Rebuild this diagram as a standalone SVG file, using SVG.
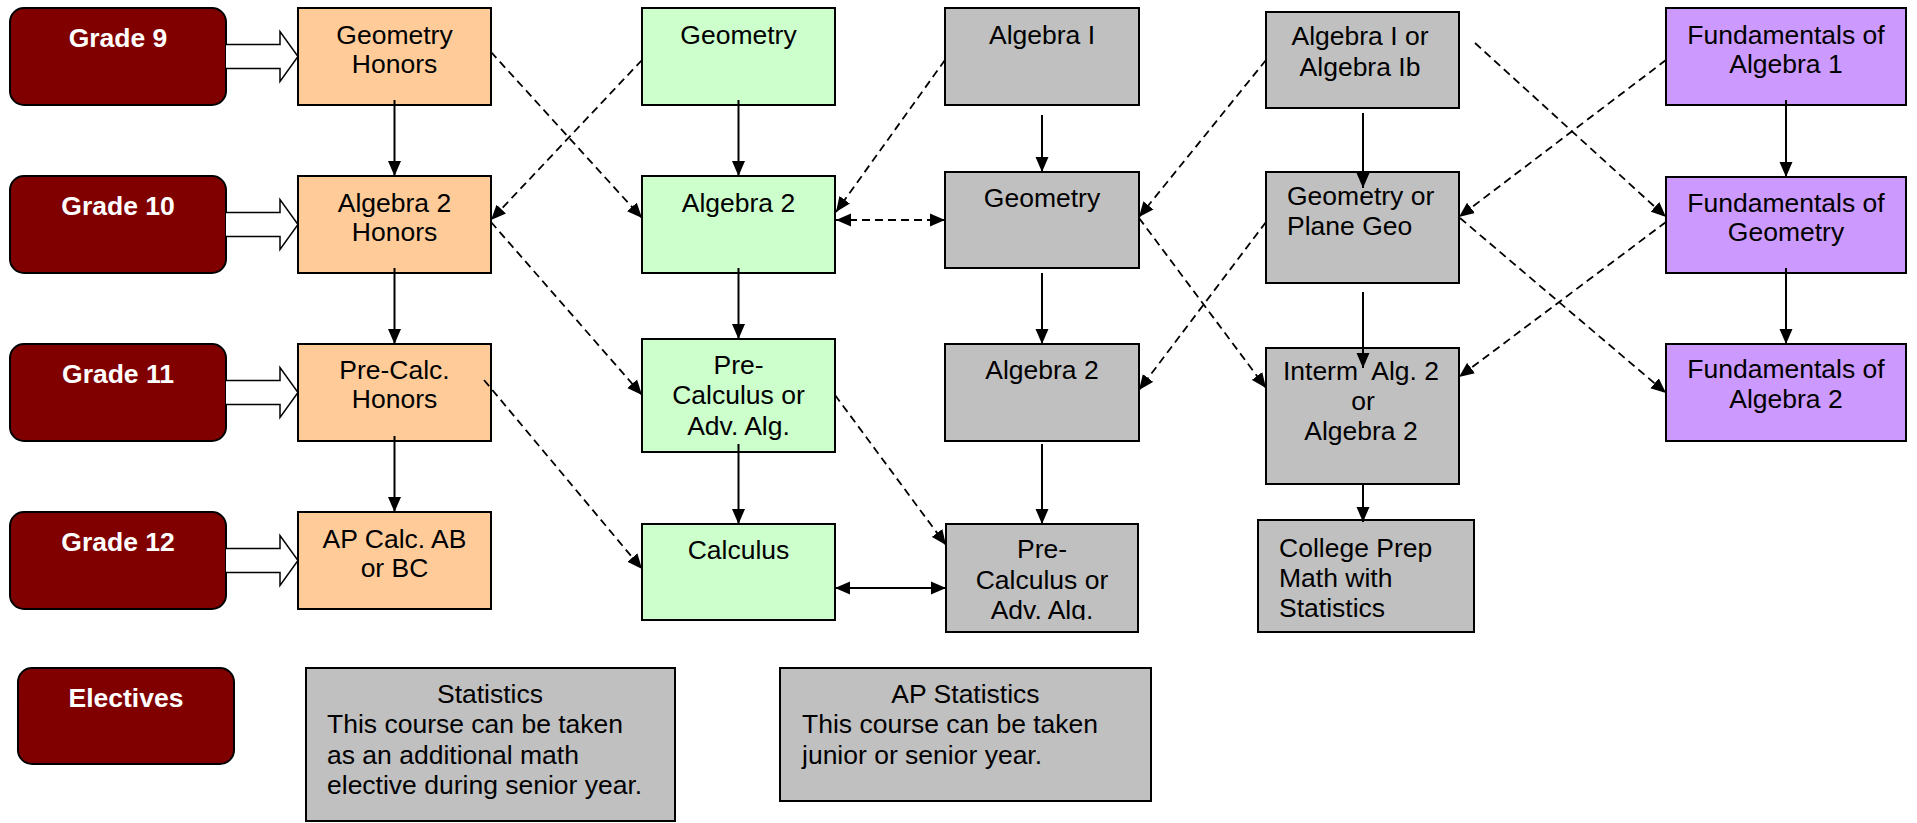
<svg xmlns="http://www.w3.org/2000/svg" width="1917" height="823" viewBox="0 0 1917 823">
<defs>
<style>
.grade{fill:#800000;stroke:#000;stroke-width:2}
.gt{font-family:"Liberation Sans",Arial,sans-serif;font-weight:bold;font-size:26.5px;fill:#fff;text-anchor:middle}
.box{stroke:#000;stroke-width:2}
.or{fill:#FFCC99}.gr{fill:#CCFFCC}.gy{fill:#C0C0C0}.pu{fill:#CC99FF}
.t{font-family:"Liberation Sans",Arial,sans-serif;font-size:26.5px;fill:#000;text-anchor:middle}
.tl{font-family:"Liberation Sans",Arial,sans-serif;font-size:26.5px;fill:#000;text-anchor:start}
.blk{fill:#fff;stroke:#000;stroke-width:1.5}
.sol{fill:none;stroke:#000;stroke-width:2;marker-end:url(#ah)}
.das{fill:none;stroke:#000;stroke-width:1.8;stroke-dasharray:8,5;marker-end:url(#ah)}
</style>
<marker id="ah" viewBox="0 0 15 14" markerWidth="15" markerHeight="14" refX="15" refY="7" orient="auto-start-reverse" markerUnits="userSpaceOnUse">
<path d="M0,0.5 L15,7 L0,13.5 z" fill="#000"/>
</marker>
<clipPath id="clipPC"><rect x="946" y="524" width="192" height="96"/></clipPath>
</defs>
<rect width="1917" height="823" fill="#fff"/>

<g id="grade9"><rect class="grade" x="10" y="8" width="216" height="97" rx="14"/><text class="gt" x="118" y="47">Grade 9</text></g>
<g id="grade10"><rect class="grade" x="10" y="176" width="216" height="97" rx="14"/><text class="gt" x="118" y="215">Grade 10</text></g>
<g id="grade11"><rect class="grade" x="10" y="344" width="216" height="97" rx="14"/><text class="gt" x="118" y="383">Grade 11</text></g>
<g id="grade12"><rect class="grade" x="10" y="512" width="216" height="97" rx="14"/><text class="gt" x="118" y="551">Grade 12</text></g>
<g id="electives"><rect class="grade" x="18" y="668" width="216" height="96" rx="14"/><text class="gt" x="126" y="707">Electives</text></g>

<g id="block-arrows">
<path class="blk" d="M226,44.5 H280 V31.5 L298,56.5 L280,81.5 V68.5 H226"/>
<path class="blk" d="M226,212.5 H280 V199.5 L298,224.5 L280,249.5 V236.5 H226"/>
<path class="blk" d="M226,380.5 H280 V367.5 L298,392.5 L280,417.5 V404.5 H226"/>
<path class="blk" d="M226,548.5 H280 V535.5 L298,560.5 L280,585.5 V572.5 H226"/>
</g>

<g id="geo-honors"><rect class="box or" x="298" y="8" width="193" height="97"/><text class="t" x="394.5" y="44">Geometry</text><text class="t" x="394.5" y="73">Honors</text></g>
<g id="alg2-honors"><rect class="box or" x="298" y="176" width="193" height="97"/><text class="t" x="394.5" y="212">Algebra 2</text><text class="t" x="394.5" y="241">Honors</text></g>
<g id="precalc-honors"><rect class="box or" x="298" y="344" width="193" height="97"/><text class="t" x="394.5" y="379">Pre-Calc.</text><text class="t" x="394.5" y="408">Honors</text></g>
<g id="ap-calc"><rect class="box or" x="298" y="512" width="193" height="97"/><text class="t" x="394.5" y="548">AP Calc. AB</text><text class="t" x="394.5" y="577">or BC</text></g>

<g id="geo-green"><rect class="box gr" x="642" y="8" width="193" height="97"/><text class="t" x="738.5" y="44">Geometry</text></g>
<g id="alg2-green"><rect class="box gr" x="642" y="176" width="193" height="97"/><text class="t" x="738.5" y="212">Algebra 2</text></g>
<g id="precalc-green"><rect class="box gr" x="642" y="339" width="193" height="113"/><text class="t" x="738.5" y="374">Pre-</text><text class="t" x="738.5" y="404">Calculus or</text><text class="t" x="738.5" y="435">Adv. Alg.</text></g>
<g id="calc-green"><rect class="box gr" x="642" y="524" width="193" height="96"/><text class="t" x="738.5" y="559">Calculus</text></g>

<g id="alg1-gray"><rect class="box gy" x="945" y="8" width="194" height="97"/><text class="t" x="1042" y="44">Algebra I</text></g>
<g id="geo-gray"><rect class="box gy" x="945" y="172" width="194" height="96"/><text class="t" x="1042" y="207">Geometry</text></g>
<g id="alg2-gray"><rect class="box gy" x="945" y="344" width="194" height="97"/><text class="t" x="1042" y="379">Algebra 2</text></g>
<g id="precalc-gray"><rect class="box gy" x="946" y="524" width="192" height="108"/><g clip-path="url(#clipPC)"><text class="t" x="1042" y="558">Pre-</text><text class="t" x="1042" y="589">Calculus or</text><text class="t" x="1042" y="619">Adv. Alg.</text></g></g>

<g id="alg1-or-ib"><rect class="box gy" x="1266" y="12" width="193" height="96"/><text class="t" x="1360" y="45">Algebra I or</text><text class="t" x="1360" y="76">Algebra Ib</text></g>
<g id="geo-or-plane"><rect class="box gy" x="1266" y="172" width="193" height="111"/><text class="tl" x="1287" y="205">Geometry or</text><text class="tl" x="1287" y="235">Plane Geo</text></g>
<g id="interm-alg2"><rect class="box gy" x="1266" y="348" width="193" height="136"/><text class="t" x="1361" y="380" style="white-space:pre">Interm  Alg. 2</text><text class="t" x="1363" y="410">or</text><text class="t" x="1361" y="440">Algebra 2</text></g>
<g id="college-prep"><rect class="box gy" x="1258" y="520" width="216" height="112"/><text class="tl" x="1279" y="557">College Prep</text><text class="tl" x="1279" y="587">Math with</text><text class="tl" x="1279" y="617">Statistics</text></g>

<g id="fund-alg1"><rect class="box pu" x="1666" y="8" width="240" height="97"/><text class="t" x="1786" y="44">Fundamentals of</text><text class="t" x="1786" y="73">Algebra 1</text></g>
<g id="fund-geo"><rect class="box pu" x="1666" y="177" width="240" height="96"/><text class="t" x="1786" y="212">Fundamentals of</text><text class="t" x="1786" y="241">Geometry</text></g>
<g id="fund-alg2"><rect class="box pu" x="1666" y="344" width="240" height="97"/><text class="t" x="1786" y="378">Fundamentals of</text><text class="t" x="1786" y="408">Algebra 2</text></g>

<g id="statistics"><rect class="box gy" x="306" y="668" width="369" height="153"/><text class="t" x="490" y="703">Statistics</text><text class="tl" x="327" y="733">This course can be taken</text><text class="tl" x="327" y="764">as an additional math</text><text class="tl" x="327" y="794">elective during senior year.</text></g>
<g id="ap-statistics"><rect class="box gy" x="780" y="668" width="371" height="133"/><text class="t" x="965.5" y="703">AP Statistics</text><text class="tl" x="802" y="733">This course can be taken</text><text class="tl" x="802" y="764">junior or senior year.</text></g>

<g id="connectors">
<line class="sol" x1="394.5" y1="100" x2="394.5" y2="176"/>
<line class="sol" x1="394.5" y1="268" x2="394.5" y2="344"/>
<line class="sol" x1="394.5" y1="436" x2="394.5" y2="512"/>
<line class="sol" x1="738.5" y1="100" x2="738.5" y2="176"/>
<line class="sol" x1="738.5" y1="268" x2="738.5" y2="339"/>
<line class="sol" x1="738.5" y1="444" x2="738.5" y2="524"/>
<line class="sol" x1="1042" y1="115" x2="1042" y2="172"/>
<line class="sol" x1="1042" y1="273" x2="1042" y2="344"/>
<line class="sol" x1="1042" y1="444" x2="1042" y2="524"/>
<line class="sol" x1="1363" y1="113" x2="1363" y2="188"/>
<line class="sol" x1="1363" y1="292" x2="1363" y2="368"/>
<line class="sol" x1="1363" y1="485" x2="1363" y2="522"/>
<line class="sol" x1="1786" y1="100" x2="1786" y2="177"/>
<line class="sol" x1="1786" y1="268" x2="1786" y2="344"/>
<line class="sol" x1="835" y1="588" x2="946" y2="588" style="marker-start:url(#ah)"/>

<line class="das" x1="491" y1="52" x2="642" y2="218"/>
<line class="das" x1="642" y1="60" x2="491" y2="220"/>
<line class="das" x1="491" y1="222" x2="642" y2="395"/>
<line class="das" x1="484" y1="380" x2="642" y2="569"/>
<line class="das" x1="945" y1="60" x2="836" y2="212"/>
<line class="das" x1="836" y1="220" x2="945" y2="220" style="marker-start:url(#ah)"/>
<line class="das" x1="835" y1="395" x2="946" y2="545"/>
<line class="das" x1="1266" y1="60" x2="1139" y2="217"/>
<line class="das" x1="1139" y1="218" x2="1266" y2="388"/>
<line class="das" x1="1266" y1="222" x2="1139" y2="390"/>
<line class="das" x1="1475" y1="43" x2="1666" y2="217"/>
<line class="das" x1="1666" y1="60" x2="1459" y2="217"/>
<line class="das" x1="1460" y1="218" x2="1666" y2="393"/>
<line class="das" x1="1666" y1="222" x2="1459" y2="377"/>
</g>
</svg>
